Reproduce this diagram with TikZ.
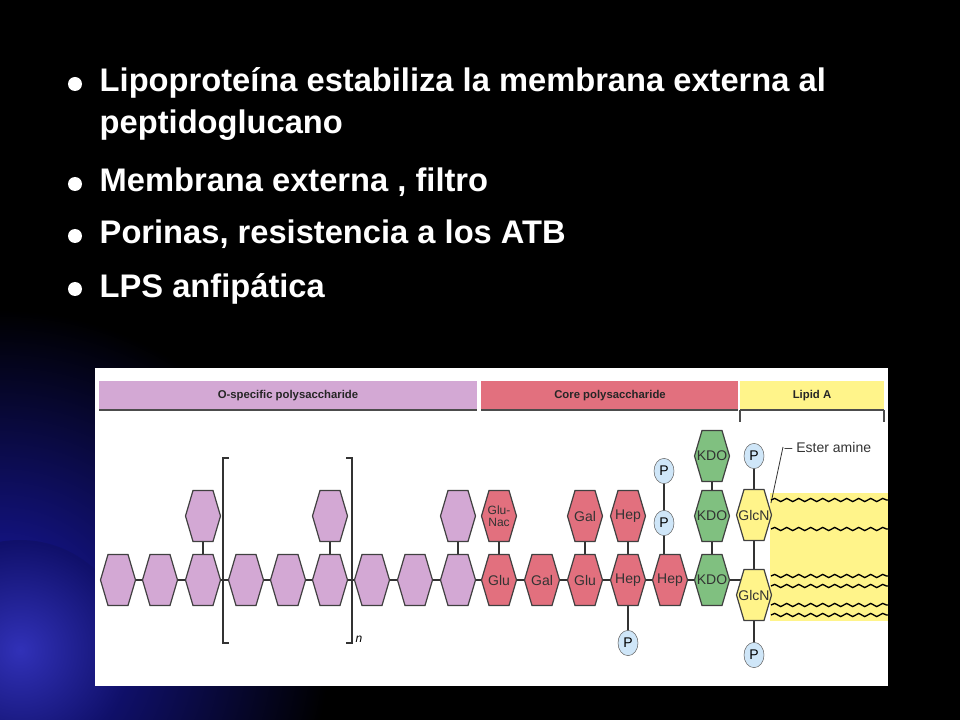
\documentclass[tikz,border=0pt]{standalone}
\usepackage{fontspec}
\setmainfont{Liberation Sans}
\usetikzlibrary{decorations.pathmorphing,shapes.geometric}
\pgfdeclarelayer{back}
\pgfdeclarelayer{bg}
\pgfsetlayers{back,bg,main}
\definecolor{opur}{HTML}{D3A8D4}
\definecolor{cpink}{HTML}{E2707E}
\definecolor{kgreen}{HTML}{80C080}
\definecolor{lyel}{HTML}{FFF48A}
\definecolor{pblue}{HTML}{CFE6F8}
\definecolor{bgblue}{HTML}{1A1AB0}
\tikzset{
 hexline/.style={draw=black!75,line width=0.9pt},
 hexlabel/.style={inner sep=0pt,font=\fontsize{10.5}{10}\selectfont,text=black!80,align=center},
 link/.style={draw=black!80,line width=1pt},
 pcirc/.style={ellipse,draw=black!60,fill=pblue,minimum width=15pt,minimum height=19pt,inner sep=0pt,font=\fontsize{10.5}{10}\selectfont},
 bullettext/.style={anchor=base west,text=white,font=\bfseries\fontsize{24.5}{27}\selectfont,align=left},
 bartext/.style={font=\bfseries\fontsize{8.5}{9}\selectfont,text=black!85},
 tail/.style={draw=black,line width=1pt,decorate,decoration={snake,amplitude=1.2pt,segment length=9pt}}
}
\newcommand\hx[5]{%
 \filldraw[hexline,fill=#4] (#2-17.5,#3)--(#2-10,#3-25.5)--(#2+10,#3-25.5)--(#2+17.5,#3)--(#2+10,#3+25.5)--(#2-10,#3+25.5)--cycle;
 \node[hexlabel] (#1) at (#2,#3) {#5};}
\begin{document}
\begin{tikzpicture}[x=0.75pt,y=-0.75pt]
\useasboundingbox (0,0) rectangle (960,720);
\begin{pgfonlayer}{back}
\fill[black] (0,0) rectangle (960,720);
\shade[inner color=bgblue,outer color=black] (0,640) circle (330);
\shade[inner color=bgblue!90!white,outer color=bgblue!60!black] (20,650) circle (110);
\fill[white] (95,368) rectangle (888,686);
\end{pgfonlayer}
% bullets
\foreach \yy/\nm in {84/b1,184/b2,236/b3,289/b4}{\fill[white] (75,\yy) circle (7) coordinate (\nm);}
\node[bullettext] (t1) at (95,92) {Lipoproteína estabiliza la membrana externa al};
\node[bullettext] (t1b) at (95,134) {peptidoglucano};
\node[bullettext] (t2) at (95,192) {Membrana externa , filtro};
\node[bullettext] (t3) at (95,244) {Porinas, resistencia a los ATB};
\node[bullettext] (t4) at (95,297) {LPS anfipática};
% bars
\fill[opur] (99,381) rectangle (477,410);
\draw[black!70,line width=1.5pt] (99,410)--(477,410);
\node[bartext] (ob) at (288,396) {O-specific polysaccharide};
\fill[cpink] (481,381) rectangle (738,410);
\draw[black!70,line width=1.5pt] (481,410)--(738,410);
\node[bartext] (cb) at (610,396) {Core polysaccharide};
\fill[lyel] (740,381) rectangle (884,410);
\draw[black!70,line width=1pt] (740,410)--(884,410) (740,410)--(740,422) (884,410)--(884,422);
\node[bartext] (lb) at (812,396) {Lipid A};
\begin{pgfonlayer}{back}
\fill[lyel] (770,493) rectangle (888,621);
\end{pgfonlayer}
% brackets
\draw[black!80,line width=1pt] (229,458)--(223,458)--(223,643)--(229,643);
\draw[black!80,line width=1pt] (346,458)--(352,458)--(352,643)--(346,643);
\node[font=\itshape\fontsize{9}{9}\selectfont] (nn) at (359,639) {n};
% hexes
\foreach \i/\xx in {1/118,2/160,3/203,4/246,5/288,6/330,7/372,8/415,9/458}{\hx{o\i}{\xx}{580}{opur}{}}
\foreach \i/\xx in {3/203,6/330,9/458}{\hx{u\i}{\xx}{516}{opur}{}}
\hx{c1}{499}{580}{cpink}{Glu}
\hx{c2}{542}{580}{cpink}{Gal}
\hx{c3}{585}{580}{cpink}{Glu}
\hx{c4}{628}{580}{cpink}{Hep}
\hx{c5}{670}{580}{cpink}{Hep}
\hx{k1}{712}{580}{kgreen}{KDO}
\hx{k2}{712}{516}{kgreen}{KDO}
\hx{k3}{712}{456}{kgreen}{KDO}
\hx{d1}{499}{516}{cpink}{{\fontsize{9}{9}\selectfont Glu-}\\[-1pt]{\fontsize{9}{9}\selectfont Nac}}
\hx{d3}{585}{516}{cpink}{Gal}
\hx{d4}{628}{516}{cpink}{Hep}
\hx{g1}{754}{595}{lyel}{GlcN}
\hx{g2}{754}{515}{lyel}{GlcN}
\node[pcirc] (p1) at (664,523) {P};
\node[pcirc] (p2) at (664,471) {P};
\node[pcirc] (p3) at (628,643) {P};
\node[pcirc] (p4) at (754,456) {P};
\node[pcirc] (p5) at (754,655) {P};
\node[anchor=west,font=\fontsize{10.5}{10}\selectfont,text=black!80] (ea) at (780,447) {-- Ester amine};
\coordinate (eaend) at (771,503);
\coordinate (c5up) at (664,580);
\coordinate (g1in) at (745,580);
\begin{pgfonlayer}{bg}
\draw[link] (o1.center)--(o9.center)--(c1.center)--(c5.center)--(k1.center)--(g1in);
\foreach \i in {3,6,9}{\draw[link] (o\i.center)--(u\i.center);}
\draw[link] (c1.center)--(d1.center) (c3.center)--(d3.center) (c4.center)--(d4.center) (c4.center)--(p3.center);
\draw[link] (c5up)--(p1.center)--(p2.center);
\draw[link] (k1.center)--(k3.center);
\draw[link] (p4.center)--(g2.center)--(g1.center)--(p5.center);
\end{pgfonlayer}
\draw[black!80,line width=0.6pt] (eaend)--(783,447);
\foreach \yy in {500,529,576,586,605,615}{\coordinate (s\yy) at (771,\yy);\coordinate (e\yy) at (888,\yy);\draw[tail] (s\yy)--(e\yy);}
\end{tikzpicture}
\end{document}
